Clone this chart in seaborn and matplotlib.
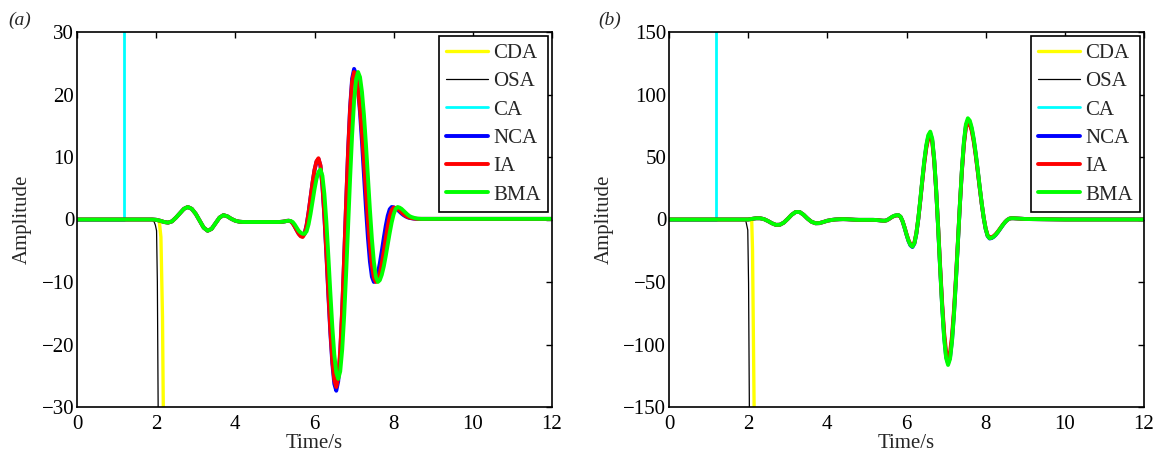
import numpy as np
import pandas as pd
import matplotlib
matplotlib.use("Agg")
import matplotlib.pyplot as plt
from matplotlib.lines import Line2D
import seaborn as sns

# ---------------------------------------------------------------- data
methods = ["CDA", "OSA", "CA", "NCA", "IA", "BMA"]

# sample times shared by the stable integration schemes
t_head = [0.0, 1.0]
t_early = np.round(np.arange(1.9, 4.95, 0.1), 2)      # 1.9 ... 4.9
t_burst = np.round(np.arange(5.0, 9.001, 0.05), 2)    # 5.00 ... 9.00
t_tail = [9.5, 10.0, 11.0, 12.0]

# (a) small response before the main burst (1.9 ... 4.9 s)
early_a = [0.0, -0.05, -0.2, -0.4, -0.5, -0.3, 0.3, 1.0, 1.7, 2.0, 1.7,
           0.9, -0.2, -1.3, -1.8, -1.5, -0.6, 0.3, 0.7, 0.5, 0.1,
           -0.2, -0.35, -0.4, -0.4, -0.4, -0.4, -0.4, -0.4, -0.4, -0.4]

# (a) main burst, 5.00 ... 9.00 s
nca_a = [-0.40, -0.40, -0.40, -0.38, -0.35, -0.30, -0.22, -0.20, -0.30, -0.60,
         -1.10, -1.70, -2.25, -2.60, -2.70, -2.23, -0.88, 1.13, 3.50, 5.87,
         7.88, 9.23, 9.70, 8.59, 5.36, 0.43, -5.62, -12.08, -18.13, -23.06,
         -26.29, -27.40, -25.85, -21.37, -14.53, -6.13, 2.83, 11.23, 18.07, 22.55,
         24.10, 23.26, 20.84, 17.08, 12.32, 7.05, 1.78, -2.98, -6.74, -9.16,
         -10.00, -9.64, -8.60, -7.00, -5.04, -2.96, -1.00, 0.60, 1.64, 2.00,
         1.95, 1.80, 1.55, 1.25, 0.95, 0.70, 0.50, 0.35, 0.25, 0.20,
         0.15, 0.12, 0.10, 0.10, 0.10, 0.10, 0.10, 0.10, 0.10, 0.10, 0.10]
ia_a = [-0.40, -0.40, -0.40, -0.38, -0.35, -0.30, -0.22, -0.20, -0.30, -0.62,
        -1.15, -1.75, -2.30, -2.68, -2.80, -2.32, -0.95, 1.09, 3.50, 5.91,
        7.95, 9.32, 9.80, 8.70, 5.52, 0.65, -5.32, -11.68, -17.65, -22.52,
        -25.70, -26.80, -25.29, -20.90, -14.20, -5.98, 2.78, 11.00, 17.70, 22.09,
        23.60, 22.93, 20.93, 17.80, 13.77, 9.19, 4.41, -0.17, -4.20, -7.33,
        -9.33, -10.00, -9.64, -8.61, -7.03, -5.09, -3.01, -1.07, 0.51, 1.51,
        1.90, 1.85, 1.70, 1.45, 1.15, 0.85, 0.60, 0.42, 0.30, 0.22,
        0.17, 0.13, 0.10, 0.10, 0.10, 0.10, 0.10, 0.10, 0.10, 0.10, 0.10]
bma_a = [-0.40, -0.40, -0.40, -0.38, -0.35, -0.30, -0.24, -0.20, -0.25, -0.40,
         -0.80, -1.30, -1.80, -2.10, -2.28, -2.30, -1.91, -0.79, 0.88, 2.85,
         4.82, 6.49, 7.61, 8.00, 7.00, 4.08, -0.37, -5.84, -11.66, -17.13,
         -21.58, -24.50, -25.50, -24.30, -20.81, -15.39, -8.54, -0.95, 6.64, 13.49,
         18.91, 22.40, 23.60, 22.78, 20.39, 16.68, 11.99, 6.80, 1.61, -3.08,
         -6.79, -9.18, -10.00, -9.71, -8.85, -7.53, -5.85, -4.00, -2.15, -0.47,
         0.85, 1.71, 2.00, 1.90, 1.70, 1.40, 1.10, 0.80, 0.55, 0.40,
         0.30, 0.20, 0.15, 0.12, 0.10, 0.10, 0.10, 0.10, 0.10, 0.10, 0.10]
tail_a = [0.1, 0.1, 0.1, 0.1]

# (a) schemes that lose stability
t_cda_a = [0.0, 1.0, 1.9, 2.0, 2.05, 2.08, 2.12, 2.16, 2.18, 2.20]
cda_a = [0.0, 0.0, 0.0, -0.05, -0.15, -0.4, -2.8, -15.6, -30.0, -90.0]
t_osa_a = [0.0, 1.0, 1.9, 1.95, 1.98, 2.01, 2.03, 2.05, 2.07]
osa_a = [0.0, 0.0, 0.0, -0.4, -0.9, -1.8, -10.0, -30.0, -90.0]
t_ca = [0.0, 1.18, 1.18]
ca_a = [0.0, 0.0, 1.0e4]

# (b) small response before the main burst (1.9 ... 4.9 s)
early_b = [0.0, 0.0, 0.5, 1.0, 1.0, 0.3, -1.2, -3.0, -4.3, -4.2, -2.5,
           0.5, 3.8, 6.0, 6.0, 3.8, 0.7, -1.8, -3.0, -2.9, -2.0,
           -1.0, -0.4, 0.0, 0.2, 0.3, 0.2, 0.0, -0.2, -0.3, -0.3]

# (b) main burst, 5.00 ... 9.00 s
nca_b = [-0.30, -0.30, -0.30, -0.30, -0.35, -0.45, -0.60, -0.80, -0.95, -1.00,
         -0.62, 0.25, 1.35, 2.30, 3.00, 3.35, 3.40, 2.14, -1.39, -6.47,
         -12.13, -17.21, -20.74, -22.00, -19.27, -11.35, 0.75, 15.58, 31.42, 46.25,
         58.35, 66.27, 69.00, 63.48, 47.47, 23.00, -6.99, -39.01, -69.00, -93.47,
         -109.48, -115.00, -110.24, -96.43, -74.93, -47.80, -17.75, 12.30, 39.43, 60.93,
         74.74, 79.50, 77.61, 71.97, 63.16, 51.80, 38.87, 25.43, 12.50, 1.14,
         -7.67, -13.31, -15.20, -14.88, -13.91, -12.41, -10.46, -8.25, -5.95, -3.74,
         -1.79, -0.29, 0.68, 1.00, 1.00, 0.90, 0.80, 0.70, 0.60, 0.50, 0.40]
ia_b = [-0.30, -0.30, -0.30, -0.30, -0.35, -0.45, -0.60, -0.80, -0.95, -1.00,
        -0.65, 0.20, 1.30, 2.25, 2.95, 3.28, 3.30, 2.10, -1.28, -6.14,
        -11.56, -16.42, -19.80, -21.00, -18.35, -10.65, 1.12, 15.55, 30.95, 45.38,
        57.15, 64.85, 67.50, 62.15, 46.62, 22.88, -6.22, -37.28, -66.38, -90.12,
        -105.65, -111.00, -106.37, -92.95, -72.07, -45.70, -16.50, 12.70, 39.07, 59.95,
        73.37, 78.00, 76.15, 70.65, 62.04, 50.94, 38.32, 25.18, 12.56, 1.46,
        -7.15, -12.65, -14.50, -14.19, -13.27, -11.83, -9.97, -7.85, -5.65, -3.53,
        -1.67, -0.23, 0.69, 1.00, 1.00, 0.90, 0.80, 0.70, 0.60, 0.50, 0.40]
bma_b = [-0.30, -0.30, -0.30, -0.30, -0.35, -0.45, -0.60, -0.80, -0.95, -1.00,
         -0.60, 0.30, 1.40, 2.40, 3.10, 3.45, 3.50, 2.25, -1.25, -6.29,
         -11.91, -16.95, -20.45, -21.70, -18.94, -10.94, 1.30, 16.30, 32.30, 47.30,
         59.54, 67.54, 70.30, 64.70, 48.46, 23.63, -6.81, -39.29, -69.73, -94.56,
         -110.80, -116.40, -111.56, -97.55, -75.74, -48.20, -17.70, 12.80, 40.34, 62.15,
         76.16, 81.00, 79.08, 73.37, 64.44, 52.92, 39.82, 26.18, 13.08, 1.56,
         -7.37, -13.08, -15.00, -14.68, -13.73, -12.24, -10.32, -8.14, -5.86, -3.68,
         -1.76, -0.27, 0.68, 1.00, 1.00, 0.90, 0.80, 0.70, 0.60, 0.50, 0.40]
tail_b = [0.2, 0.0, 0.0, 0.0]

# (b) schemes that lose stability
t_cda_b = [0.0, 1.0, 1.9, 2.05, 2.09, 2.11, 2.15, 2.17]
cda_b = [0.0, 0.0, 0.0, 0.3, -1.0, -24.0, -150.0, -450.0]
t_osa_b = [0.0, 1.0, 1.9, 1.94, 1.99, 2.01, 2.03, 2.05]
osa_b = [0.0, 0.0, 0.0, -1.0, -8.4, -51.0, -150.0, -450.0]
ca_b = [0.0, 0.0, 1.0e4]

# ---------------------------------------------------------------- style
colors = {"CDA": "#ffff00", "OSA": "#000000", "CA": "#00ffff",
          "NCA": "#0000ff", "IA": "#ff0000", "BMA": "#00ff00"}
widths = {"CDA": 2.4, "OSA": 0.9, "CA": 2.0, "NCA": 2.8, "IA": 2.8, "BMA": 2.8}

sns.set_style("white")
plt.rcParams["font.family"] = ["Liberation Serif", "DejaVu Serif"]
plt.rcParams["mathtext.fontset"] = "stix"
plt.rcParams["axes.unicode_minus"] = True

FS = 15


def panel_frame(t_cda, cda, t_osa, osa, ca, early, nca, ia, bma, tail):
    stable_t = np.concatenate([t_head, t_early, t_burst, t_tail])
    parts = [
        pd.DataFrame({"time": t_cda, "amplitude": cda, "method": "CDA"}),
        pd.DataFrame({"time": t_osa, "amplitude": osa, "method": "OSA"}),
        pd.DataFrame({"time": t_ca, "amplitude": ca, "method": "CA"}),
    ]
    for name, burst in (("NCA", nca), ("IA", ia), ("BMA", bma)):
        vals = np.concatenate([[0.0, 0.0], early, burst, tail])
        parts.append(pd.DataFrame({"time": stable_t, "amplitude": vals, "method": name}))
    return pd.concat(parts, ignore_index=True)


def draw(ax, df, ylim, yticks):
    sns.lineplot(data=df, x="time", y="amplitude", hue="method", hue_order=methods,
                 palette=colors, size="method", size_order=methods, sizes=widths,
                 sort=False, estimator=None, legend=False, ax=ax)
    ax.set_xlim(0, 12)
    ax.set_ylim(*ylim)
    ax.set_xticks(range(0, 13, 2))
    ax.set_yticks(yticks)
    ax.set_xlabel("Time/s", fontsize=FS, labelpad=0)
    ax.set_ylabel("Amplitude", fontsize=FS, labelpad=7)
    ax.tick_params(direction="in", top=True, right=True, length=4, width=1,
                   labelsize=FS, colors="black")
    ax.tick_params(axis="x", pad=6)
    ax.tick_params(axis="y", pad=2)
    for sp in ax.spines.values():
        sp.set_visible(True)
        sp.set_color("black")
        sp.set_linewidth(1.2)
    handles = [Line2D([0], [0], color=colors[m], lw=widths[m]) for m in methods]
    leg = ax.legend(handles, methods, loc="upper right", fontsize=FS,
                    frameon=True, fancybox=False, framealpha=1, edgecolor="black",
                    borderaxespad=0.2, borderpad=0.35, labelspacing=0.42,
                    handlelength=2.0, handletextpad=0.25)
    leg.get_frame().set_linewidth(1.2)


fig = plt.figure(figsize=(11.6, 4.57), dpi=100)
ax_a = fig.add_axes([77 / 1160, 50 / 457, 475 / 1160, 375 / 457])
ax_b = fig.add_axes([669 / 1160, 50 / 457, 475 / 1160, 375 / 457])

df_a = panel_frame(t_cda_a, cda_a, t_osa_a, osa_a, ca_a, early_a, nca_a, ia_a, bma_a, tail_a)
df_b = panel_frame(t_cda_b, cda_b, t_osa_b, osa_b, ca_b, early_b, nca_b, ia_b, bma_b, tail_b)

draw(ax_a, df_a, (-30, 30), range(-30, 31, 10))
draw(ax_b, df_b, (-150, 150), range(-150, 151, 50))

fig.text(8 / 1160, 1 - 20 / 457, "(a)", fontsize=14, style="italic", va="center")
fig.text(598 / 1160, 1 - 20 / 457, "(b)", fontsize=14, style="italic", va="center")

fig.savefig("out.png", dpi=100)
